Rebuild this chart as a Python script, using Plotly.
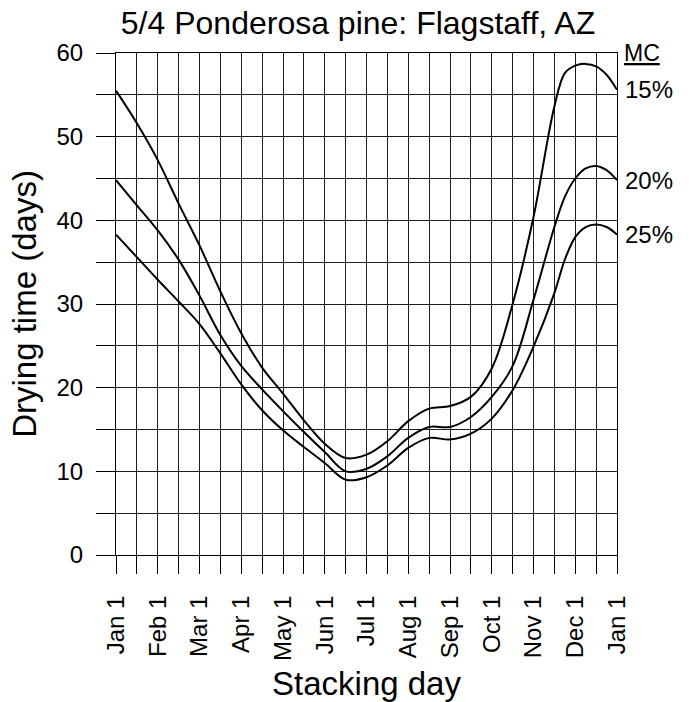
import plotly.graph_objects as go

# Stacking day expressed in months after Jan 1 (0 = Jan 1, 12 = next Jan 1)
months = [0, 0.5, 1, 1.5, 2, 2.5, 3, 3.5, 4, 4.5, 5, 5.5, 6, 6.5, 7, 7.5, 8,
          8.5, 9, 9.5, 10, 10.5, 10.75, 11, 11.25, 11.5, 11.75, 12]

# Drying time (days) to reach each final moisture content
mc15 = [55.5, 51.6, 47.2, 42.0, 37.0, 31.5, 26.5, 22.4, 19.3, 16.1, 13.3, 11.6, 12.0,
        13.6, 16.0, 17.5, 17.8, 18.9, 22.3, 30.0, 40.4, 53.6, 57.6, 58.5, 58.7, 58.4, 57.4, 55.6]
mc20 = [44.8, 41.8, 38.8, 35.3, 31.0, 26.3, 22.6, 19.8, 17.2, 14.7, 12.3, 10.0, 10.3,
        11.8, 14.0, 15.3, 15.3, 16.5, 18.9, 22.6, 30.5, 39.2, 42.8, 45.0, 46.2, 46.5, 46.0, 44.8]
mc25 = [38.3, 35.6, 32.9, 30.3, 27.6, 24.1, 20.4, 17.3, 14.9, 12.9, 11.0, 9.0, 9.3,
        10.7, 12.8, 14.0, 13.8, 14.5, 16.3, 19.7, 24.9, 31.3, 35.3, 38.0, 39.2, 39.5, 39.2, 38.3]

series = [("15%", mc15), ("20%", mc20), ("25%", mc25)]

tick_months = list(range(13))
tick_labels = ["Jan 1", "Feb 1", "Mar 1", "Apr 1", "May 1", "Jun 1", "Jul 1",
               "Aug 1", "Sep 1", "Oct 1", "Nov 1", "Dec 1", "Jan 1"]

FONT = "Liberation Sans, Arial, sans-serif"
INK = "black"
GRID = "#1e1e1e"

fig = go.Figure()
for name, vals in series:
    fig.add_trace(go.Scatter(
        x=months, y=vals, mode="lines", name=name,
        line=dict(color=INK, width=2, shape="spline", smoothing=1.0),
        showlegend=False, hoverinfo="skip",
    ))

# Moisture-content labels at the right end of each curve
for name, vals in series:
    fig.add_annotation(x=months[-1], y=vals[-1], xref="x", yref="y", text=name,
                       showarrow=False, xanchor="left", yanchor="middle", xshift=6,
                       font=dict(family=FONT, size=24, color=INK))
fig.add_annotation(x=months[-1], y=60, xref="x", yref="y", text="<u>MC</u>",
                   showarrow=False, xanchor="left", yanchor="middle", xshift=5,
                   font=dict(family=FONT, size=23, color=INK))

fig.update_layout(
    width=689, height=702,
    margin=dict(l=116, r=72, t=53, b=147, autoexpand=False),
    paper_bgcolor="white", plot_bgcolor="white",
    font=dict(family=FONT, color=INK),
    title=dict(text="5/4 Ponderosa pine: Flagstaff, AZ",
               x=358 / 689, xanchor="center", xref="container",
               y=1 - 23 / 702, yanchor="middle", yref="container",
               font=dict(family=FONT, size=32, color=INK)),
)

fig.update_xaxes(
    range=[0, 12], tickmode="array", tickvals=tick_months, ticktext=tick_labels,
    tickangle=-90, tickfont=dict(family=FONT, size=24, color=INK),
    ticks="outside", ticklen=18, tickwidth=1, tickcolor=INK,
    ticklabelstandoff=12, automargin=False,
    showgrid=True, gridcolor=GRID, gridwidth=1,
    minor=dict(dtick=0.5, ticks="outside", ticklen=18, tickwidth=1, tickcolor=INK,
               showgrid=True, gridcolor=GRID, gridwidth=1),
    showline=True, linecolor=INK, linewidth=1, mirror=True,
    zeroline=False,
    title=dict(text="Stacking day", font=dict(family=FONT, size=33, color=INK), standoff=16),
)
fig.update_yaxes(
    range=[0, 60], dtick=10, tick0=0,
    tickfont=dict(family=FONT, size=24, color=INK),
    ticks="outside", ticklen=19, tickwidth=1, tickcolor=INK,
    ticklabelstandoff=8, automargin=False,
    showgrid=True, gridcolor=GRID, gridwidth=1,
    minor=dict(dtick=5, ticks="outside", ticklen=19, tickwidth=1, tickcolor=INK,
               showgrid=True, gridcolor=GRID, gridwidth=1),
    showline=True, linecolor=INK, linewidth=1, mirror=True,
    zeroline=False,
    title=dict(text="Drying time (days)", font=dict(family=FONT, size=33, color=INK), standoff=9),
)

fig.write_html("out.html")
